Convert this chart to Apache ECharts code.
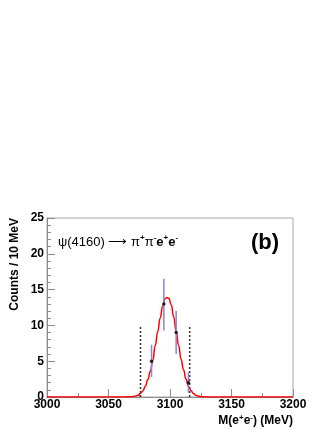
<!DOCTYPE html>
<html>
<head>
<meta charset="utf-8">
<script src="https://cdn.jsdelivr.net/npm/echarts@6/dist/echarts.min.js"></script>
<style>
  html, body { margin: 0; padding: 0; background: #fff; }
  #main { width: 332px; height: 430px; }
</style>
</head>
<body>
<div id="main"></div>
<script>
// data points (M in MeV, counts per 10 MeV)
var dataX = [3085, 3095, 3105, 3115];
var dataY = [5, 13, 9, 2];
var errLow = [2.8, 9.3, 6.0, 0.6];
var errHigh = [7.3, 16.5, 12.0, 3.45];

// fitted curve
var fitX = [3000, 3060, 3064, 3067, 3070, 3072, 3074, 3076, 3078, 3080, 3082, 3084, 3086, 3088, 3090, 3092, 3094, 3096, 3097.5, 3099, 3101, 3103, 3105, 3107, 3109, 3111, 3113, 3115, 3117, 3119, 3121, 3123, 3126, 3129, 3133, 3200];
var fitY = [0, 0, 0.01, 0.03, 0.06, 0.13, 0.25, 0.5, 0.88, 1.5, 2.44, 3.6, 5.1, 7.2, 9.1, 11.0, 12.7, 13.7, 13.9, 13.8, 12.9, 11.2, 9.2, 7.2, 5.3, 3.8, 2.5, 1.5, 0.9, 0.5, 0.25, 0.12, 0.04, 0.01, 0, 0];

// signal window (dotted lines)
var cutX = [3076, 3116];
var cutHeight = 10;

var font = 'Liberation Sans';
var axisGrey = '#8c8c8c';

var chart = echarts.init(document.getElementById('main'));

var pts = dataX.map(function (x, i) { return [x, dataY[i]]; });
var errs = dataX.map(function (x, i) { return [x, errLow[i], errHigh[i]]; });
var fit = fitX.map(function (x, i) { return [x, fitY[i]]; });

var cutSeries = cutX.map(function (x) {
  return {
    type: 'line',
    data: [[x, 0], [x, cutHeight]],
    symbol: 'none',
    silent: true,
    lineStyle: { color: '#333', width: 1.5, type: [2, 2] },
    z: 1
  };
});

var option = {
  animation: false,
  grid: { left: 47, right: 39, top: 218, bottom: 33, show: true, borderColor: '#aaa', borderWidth: 1 },
  xAxis: {
    type: 'value', min: 3000, max: 3200, interval: 50,
    axisLine: { lineStyle: { color: axisGrey } },
    axisTick: { inside: true, length: 8, lineStyle: { color: axisGrey } },
    minorTick: { show: true, splitNumber: 2, length: 4, lineStyle: { color: axisGrey } },
    splitLine: { show: false },
    axisLabel: {
      color: '#000', fontFamily: font, fontWeight: 'bold', fontSize: 12, margin: 2,
      formatter: function (v) { return String(v); }
    }
  },
  yAxis: {
    type: 'value', min: 0, max: 25, interval: 5,
    axisLine: { show: true, lineStyle: { color: axisGrey } },
    axisTick: { show: true, inside: true, length: 8, lineStyle: { color: axisGrey } },
    minorTick: { show: true, splitNumber: 5, length: 4, lineStyle: { color: axisGrey } },
    splitLine: { show: false },
    axisLabel: { color: '#000', fontFamily: font, fontWeight: 'bold', fontSize: 12, margin: 3 }
  },
  graphic: [
    {
      type: 'text', x: 15, y: 218, rotation: Math.PI / 2,
      style: { text: 'Counts / 10 MeV', fill: '#000', font: 'bold 12px ' + font, align: 'right', verticalAlign: 'middle' }
    },
    {
      type: 'text', x: 293, y: 421,
      style: {
        text: '{n|M(e}{s|+}{n|e}{s|-}{n|) (MeV)}',
        align: 'right', verticalAlign: 'middle',
        rich: {
          n: { fontFamily: font, fontWeight: 'bold', fontSize: 12, fill: '#000', lineHeight: 14 },
          s: { fontFamily: font, fontWeight: 'bold', fontSize: 8, fill: '#000', lineHeight: 14, verticalAlign: 'top' }
        }
      }
    },
    {
      type: 'text', x: 58, y: 242,
      style: {
        text: '{n|\u03c8(4160) \u27f6 \u03c0}{s|+}{n|\u03c0}{s|-}{b|e}{s|+}{b|e}{s|-}',
        align: 'left', verticalAlign: 'middle',
        rich: {
          n: { fontFamily: font, fontSize: 13, fill: '#000', lineHeight: 16 },
          b: { fontFamily: font, fontWeight: 'bold', fontSize: 13, fill: '#000', lineHeight: 16 },
          s: { fontFamily: font, fontWeight: 'bold', fontSize: 8, fill: '#000', lineHeight: 16, verticalAlign: 'top' }
        }
      }
    },
    {
      type: 'text', x: 265, y: 243,
      style: { text: '(b)', fill: '#000', font: 'bold 22px ' + font, align: 'center', verticalAlign: 'middle' }
    }
  ],
  series: cutSeries.concat([
    {
      type: 'line',
      data: fit,
      smooth: 0.5,
      smoothMonotone: 'x',
      symbol: 'none',
      lineStyle: { color: '#ff0000', width: 1.5 },
      z: 3
    },
    {
      type: 'custom',
      data: errs,
      renderItem: function (params, api) {
        var x = api.value(0);
        var lo = api.coord([x, api.value(1)]);
        var hi = api.coord([x, api.value(2)]);
        return {
          type: 'line',
          shape: { x1: lo[0], y1: lo[1], x2: hi[0], y2: hi[1] },
          style: { stroke: '#8585d6', lineWidth: 1.5 }
        };
      },
      z: 4
    },
    {
      type: 'scatter',
      data: pts,
      symbol: 'circle',
      symbolSize: 3.5,
      itemStyle: { color: '#000' },
      z: 5
    }
  ])
};

chart.setOption(option);
</script>
</body>
</html>
